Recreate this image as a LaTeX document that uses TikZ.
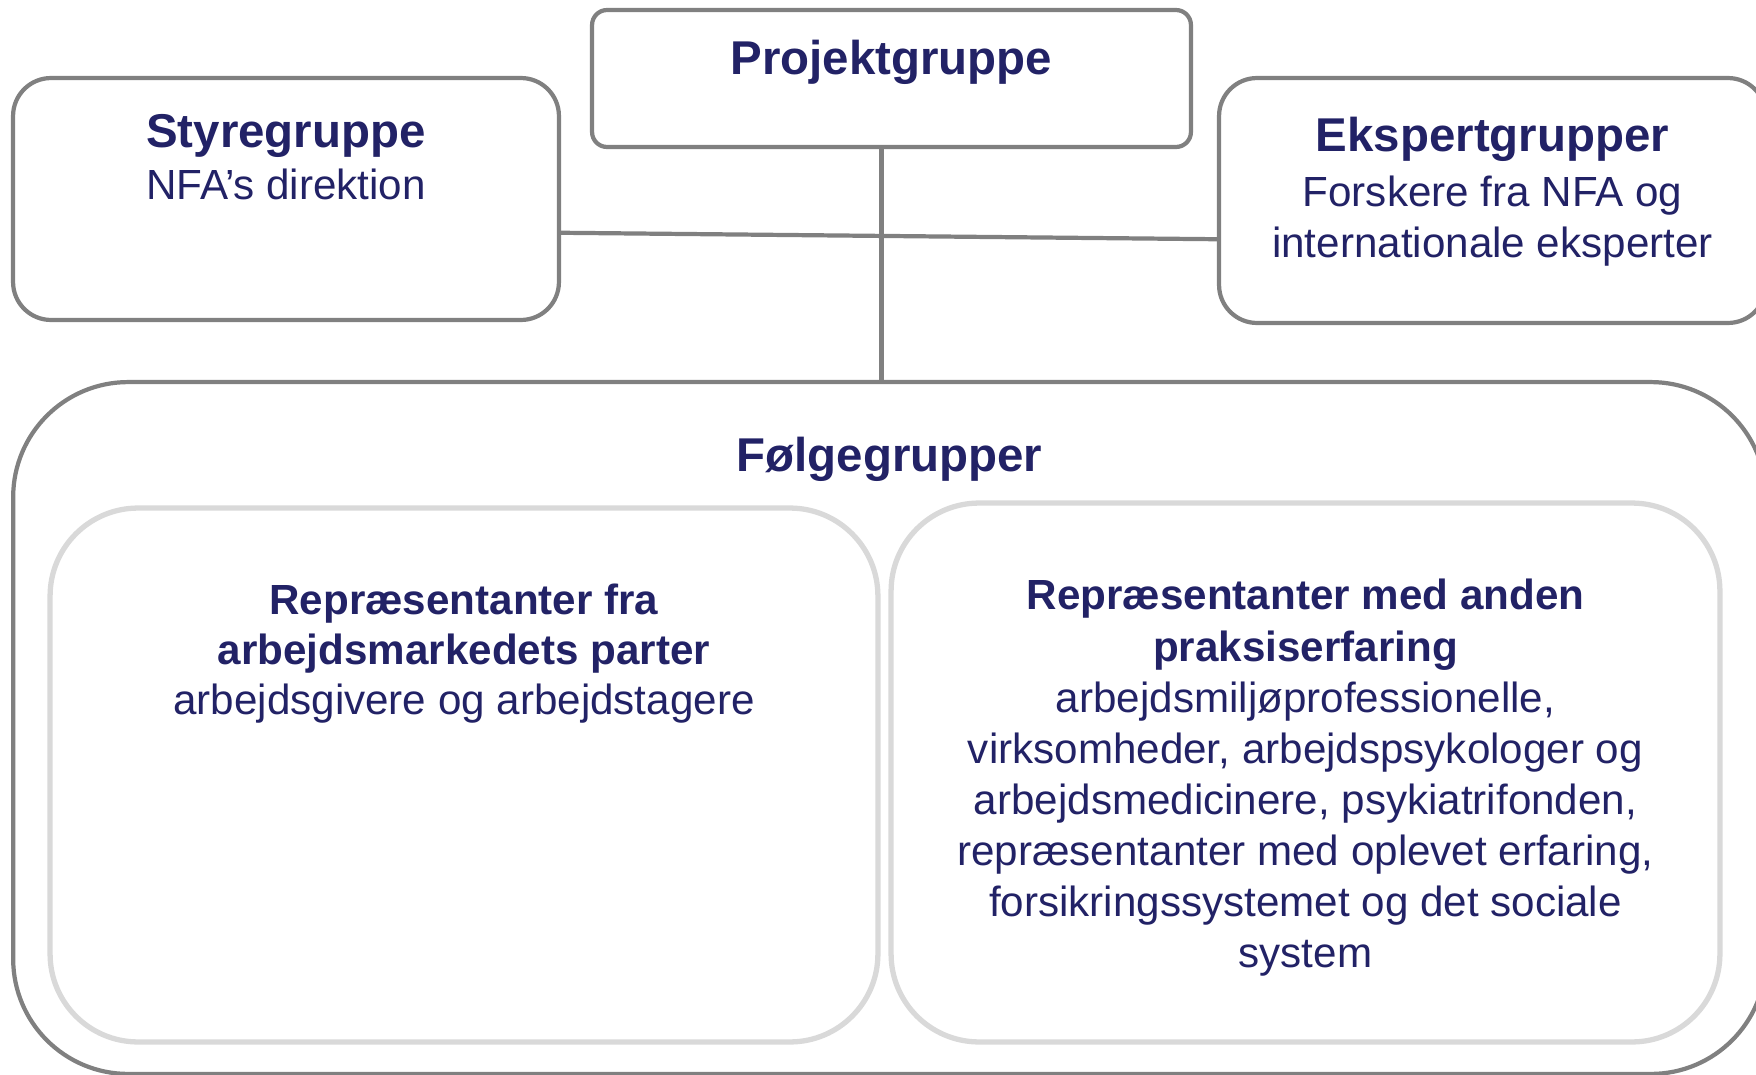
\documentclass[tikz,border=0pt]{standalone}
\usepackage{fontspec}
\setmainfont{Liberation Sans}
\usepackage{tikz}
\usetikzlibrary{positioning}
\definecolor{navytext}{RGB}{34,34,102}
\definecolor{framegray}{RGB}{128,128,128}
\definecolor{softgray}{RGB}{217,217,217}

\begin{document}
\begin{tikzpicture}[x=0.02cm, y=-0.02cm,
    grp/.style={draw=framegray, line width=2.4pt, rounded corners=0.76cm,
                inner sep=0pt, fill=white},
    sub/.style={draw=softgray, line width=3pt, rounded corners=1.76cm, inner sep=0pt},
    ttl/.style={font=\fontsize{27}{32}\selectfont\bfseries, text=navytext, inner sep=0pt},
    txt/.style={font=\fontsize{24}{29.1}\selectfont, text=navytext, inner sep=0pt, align=center},
    link/.style={draw=framegray, line width=2.4pt}
  ]
  \useasboundingbox (0,0) rectangle (1756,1075);
  \clip (0,0) rectangle (1756,1075);

  % big box with the two groups inside
  \node[grp, rounded corners=2.3cm, minimum width=35.06cm, minimum height=13.84cm] (folge) at (889.5,728) {};
  \node[sub, minimum width=16.56cm, minimum height=10.68cm] (parter) at (464,775) {};
  \node[sub, minimum width=16.58cm, minimum height=10.78cm] (praksis) at (1305.5,772.5) {};

  % top row
  \node[grp, rounded corners=0.3cm, minimum width=11.98cm, minimum height=2.74cm] (projekt) at (891.5,78.5) {};
  \node[grp, minimum width=10.92cm, minimum height=4.84cm] (styre) at (286,199) {};
  \node[grp, minimum width=10.94cm, minimum height=4.9cm] (ekspert) at (1492.5,200.5) {};

  \draw[link] (styre.-7.4) -- (ekspert.188.5);
  \draw[link] (projekt.262) -- (projekt.262 |- folge.north);

  % texts (multi-line nodes sit on their last line)
  \node[ttl, below=1.33cm of projekt.north, anchor=base] (projektT) {Projektgruppe};
  \node[ttl, below=1.43cm of styre.north, anchor=base] (styreT) {Styregruppe};
  \node[txt, below=2.47cm of styre.north, anchor=base] (styreB) {NFA’s direktion};
  \node[ttl, below=1.52cm of ekspert.north, anchor=base] (ekspertT) {Ekspertgrupper};
  \node[txt, below=3.64cm of ekspert.north, anchor=base, font=\fontsize{24}{29.5}\selectfont]
    (ekspertB) {Forskere fra NFA og\\internationale eksperter};
  \node[ttl, below=1.84cm of folge.north, anchor=base] (folgeT) {Følgegrupper};
  \node[txt, below=4.19cm of parter.north, anchor=base, font=\fontsize{24}{28.7}\selectfont] (parterT)
    {\textbf{Repræsentanter fra}\\\textbf{arbejdsmarkedets parter}\\arbejdsgivere og arbejdstagere};
  \node[txt, below=9.35cm of praksis.north, anchor=base] (praksisT)
    {\textbf{Repræsentanter med anden}\\\textbf{praksiserfaring}\\arbejdsmiljøprofessionelle,\\
     virksomheder, arbejdspsykologer og\\arbejdsmedicinere, psykiatrifonden,\\
     repræsentanter med oplevet erfaring,\\forsikringssystemet og det sociale\\system};
\end{tikzpicture}
\end{document}
